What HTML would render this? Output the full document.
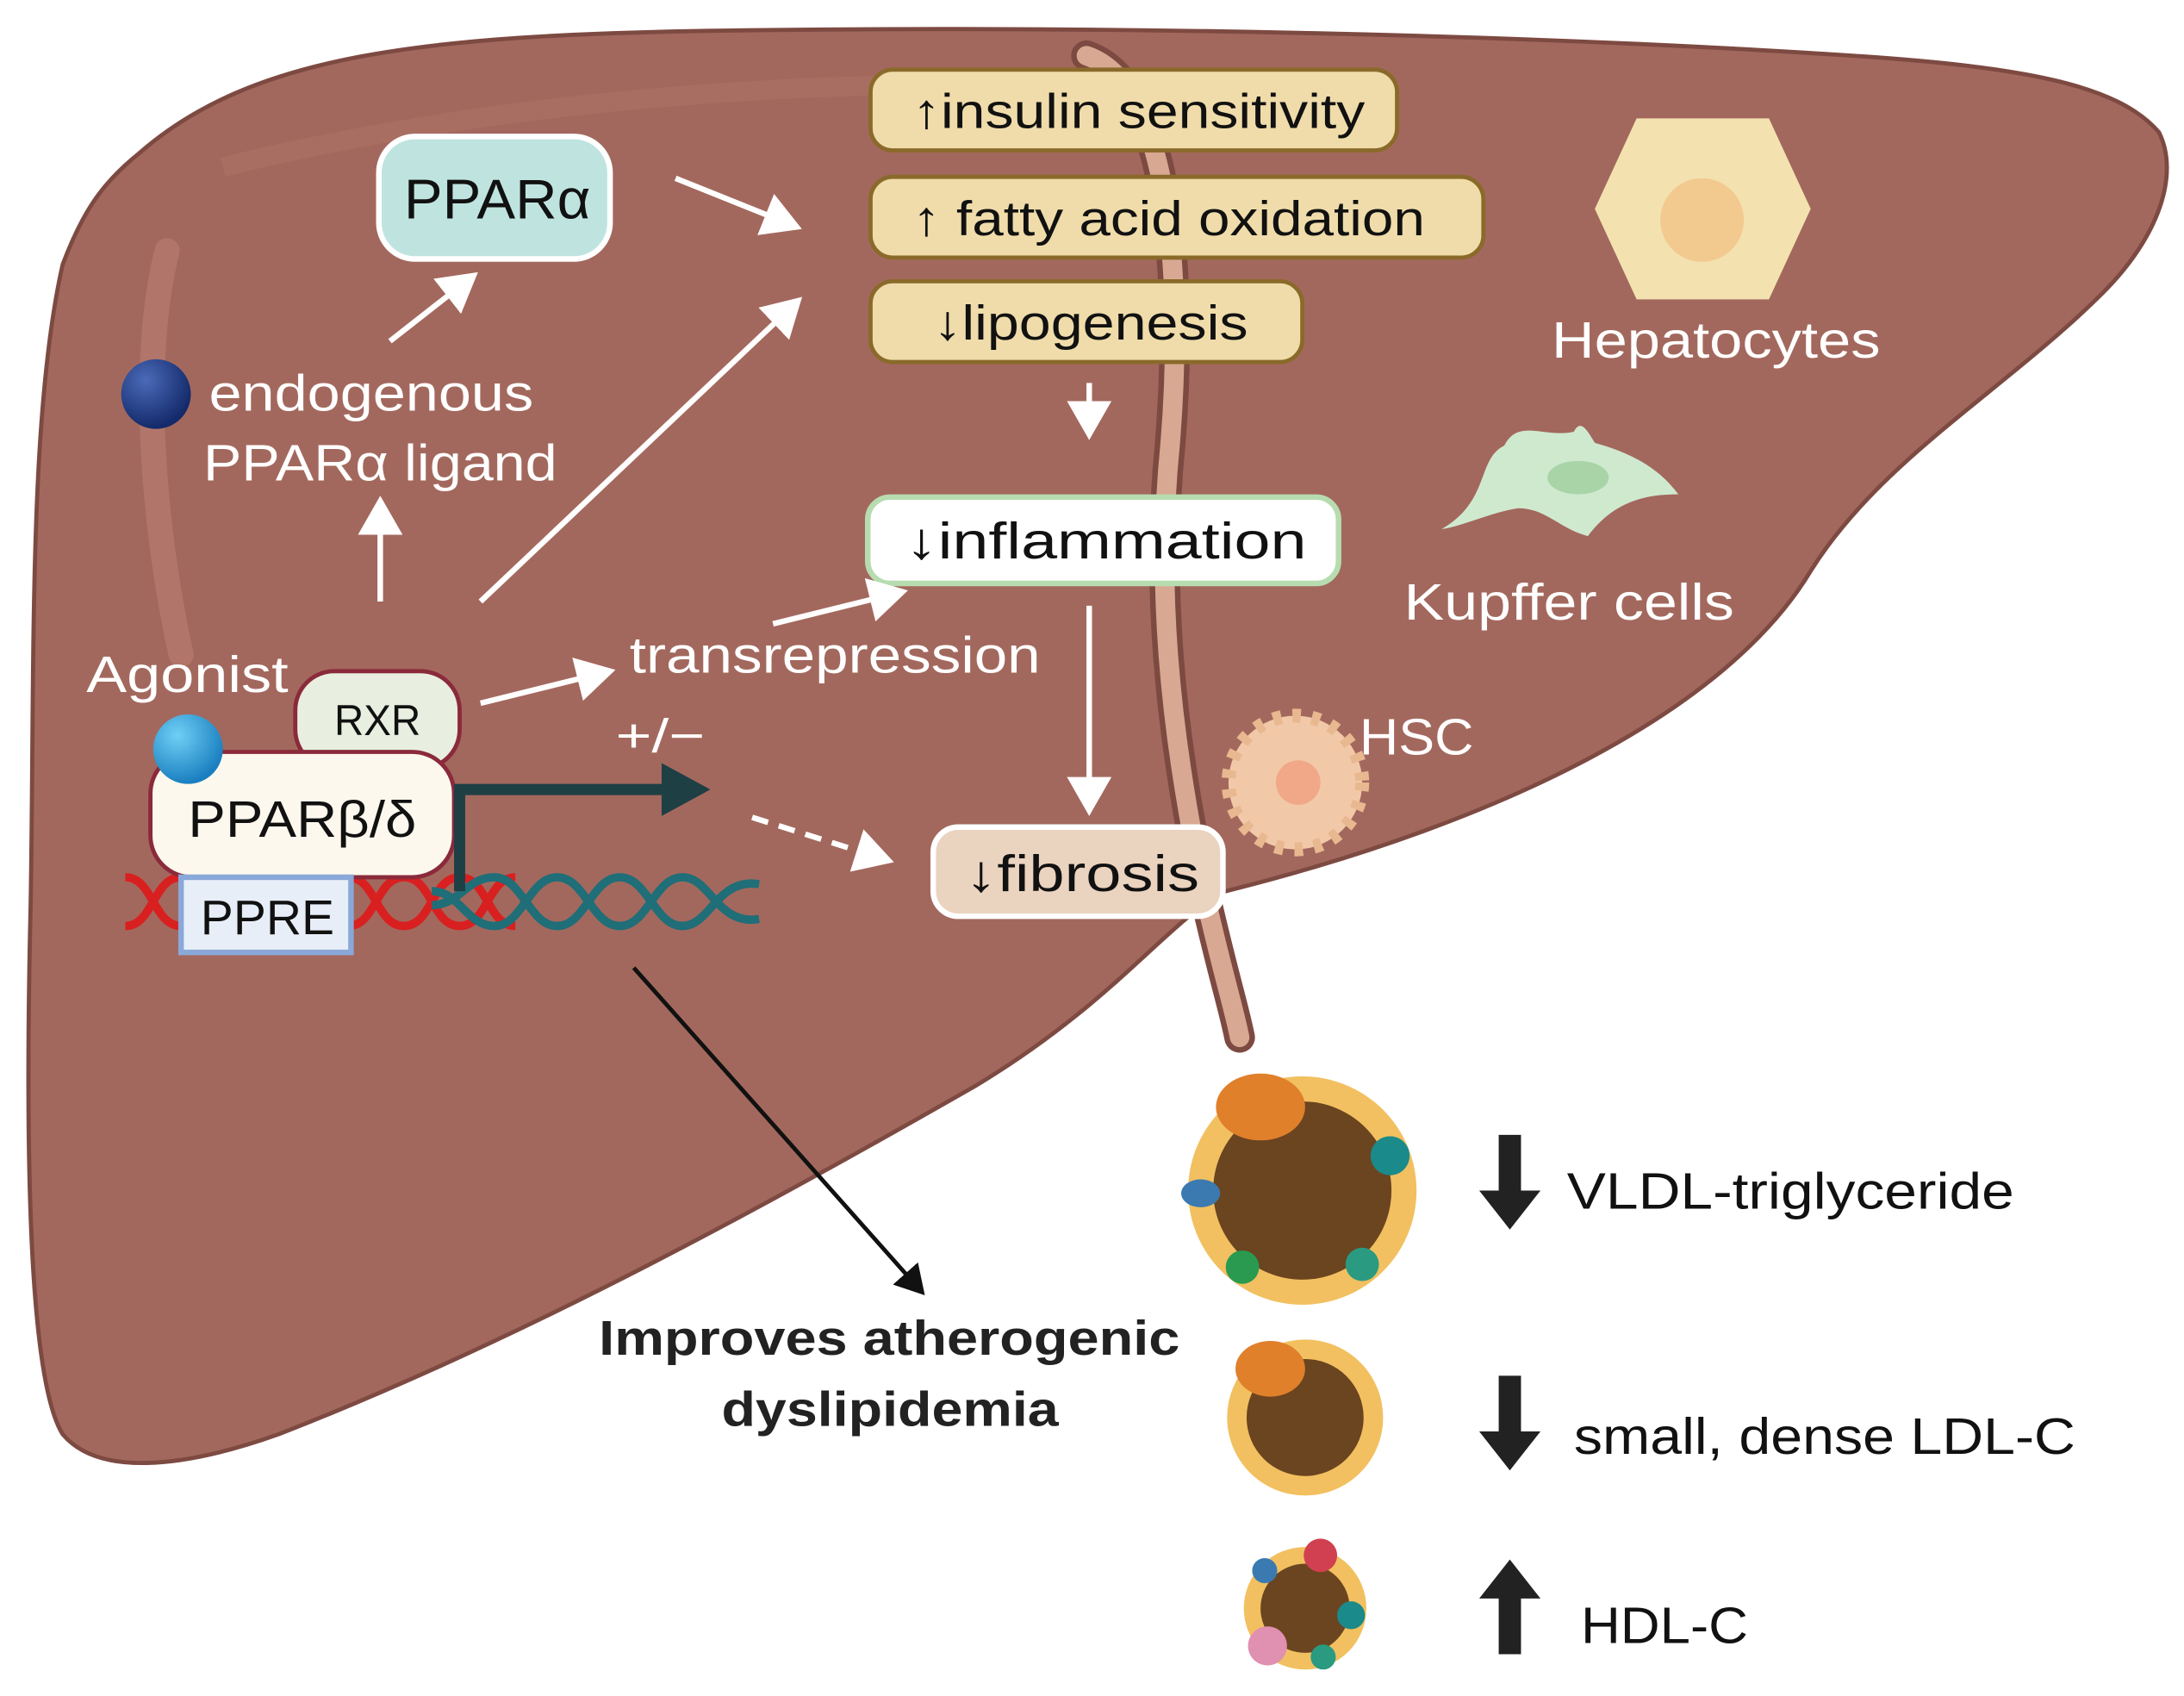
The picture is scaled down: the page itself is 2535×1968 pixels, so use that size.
<!DOCTYPE html>
<html><head><meta charset="utf-8"><style>
html,body{margin:0;padding:0;background:#fff}
svg{display:block}
text{font-family:"Liberation Sans",sans-serif}
</style></head><body>
<svg width="2535" height="1968" viewBox="0 0 1568 1218" preserveAspectRatio="none" xmlns="http://www.w3.org/2000/svg">
<defs>
<marker id="aw" markerWidth="8" markerHeight="8" refX="6" refY="4" orient="auto" markerUnits="strokeWidth"><path d="M0,0 L7,4 L0,8 Z" fill="#fff"/></marker>
<marker id="ab" markerWidth="8" markerHeight="8" refX="6" refY="4" orient="auto" markerUnits="strokeWidth"><path d="M0,0 L7,4 L0,8 Z" fill="#111"/></marker>
<radialGradient id="bl" cx="0.35" cy="0.3" r="0.7"><stop offset="0" stop-color="#4a6ab8"/><stop offset="1" stop-color="#142a6a"/></radialGradient>
<radialGradient id="lb" cx="0.35" cy="0.3" r="0.7"><stop offset="0" stop-color="#6fd0f5"/><stop offset="1" stop-color="#1a7fc0"/></radialGradient>
</defs>
<path d="M100,110 C180,40 300,25 520,22 C800,18 1100,25 1330,40 C1450,48 1520,60 1550,95 C1565,125 1550,170 1510,210 C1440,280 1350,330 1300,410 C1240,510 1080,590 880,640 C840,660 800,720 700,780 C560,860 380,960 200,1030 C130,1055 70,1060 45,1030 C20,990 18,820 22,650 C25,480 20,300 45,190 C60,150 75,130 100,110 Z" fill="#a3685d" stroke="#7d4a42" stroke-width="3"/>
<path d="M120,180 C100,260 110,380 130,470" stroke="#b87a70" stroke-width="18" fill="none" stroke-linecap="round" opacity="0.7"/>
<path d="M160,120 C400,60 700,50 900,70" stroke="#b07368" stroke-width="14" fill="none" opacity="0.5"/>
<path d="M780,40 C840,60 850,200 840,320 C830,420 840,520 860,620 C875,690 885,720 890,745" stroke="#7d4a42" stroke-width="22" fill="none" stroke-linecap="round"/>
<path d="M780,40 C840,60 850,200 840,320 C830,420 840,520 860,620 C875,690 885,720 890,745" stroke="#d9a892" stroke-width="14" fill="none" stroke-linecap="round"/>
<path d="M800,650 C830,640 860,630 880,640" stroke="#7d4a42" stroke-width="3" fill="none"/>
<rect x="625" y="50" width="378" height="58" rx="16" fill="#efdcaa" stroke="#8a6a2a" stroke-width="3"/>
<text x="655" y="92" font-size="35" fill="#111" textLength="325" lengthAdjust="spacingAndGlyphs">↑insulin sensitivity</text>
<rect x="625" y="127" width="440" height="58" rx="16" fill="#efdcaa" stroke="#8a6a2a" stroke-width="3"/>
<text x="655" y="169" font-size="35" fill="#111" textLength="368" lengthAdjust="spacingAndGlyphs">↑ fatty acid oxidation</text>
<rect x="625" y="202" width="310" height="58" rx="16" fill="#efdcaa" stroke="#8a6a2a" stroke-width="3"/>
<text x="670" y="244" font-size="35" fill="#111" textLength="226" lengthAdjust="spacingAndGlyphs">↓lipogenesis</text>
<rect x="623" y="357" width="338" height="62" rx="16" fill="#fff" stroke="#b6dcb0" stroke-width="4"/>
<text x="650" y="401" font-size="37" fill="#111" textLength="288" lengthAdjust="spacingAndGlyphs">↓inflammation</text>
<rect x="670" y="594" width="208" height="64" rx="18" fill="#ead3bf" stroke="#fff" stroke-width="4"/>
<text x="693" y="640" font-size="37" fill="#111" textLength="168" lengthAdjust="spacingAndGlyphs">↓fibrosis</text>
<rect x="272" y="98" width="166" height="88" rx="26" fill="#bfe4e0" stroke="#fff" stroke-width="4"/>
<text x="290" y="157" font-size="40" fill="#111" textLength="134" lengthAdjust="spacingAndGlyphs">PPARα</text>
<text x="150" y="295" font-size="37" fill="#fff" textLength="233" lengthAdjust="spacingAndGlyphs">endogenous</text>
<text x="146" y="345" font-size="37" fill="#fff" textLength="254" lengthAdjust="spacingAndGlyphs">PPARα ligand</text>
<text x="62" y="497" font-size="37" fill="#fff" textLength="145" lengthAdjust="spacingAndGlyphs">Agonist</text>
<text x="452" y="483" font-size="37" fill="#fff" textLength="295" lengthAdjust="spacingAndGlyphs">transrepression</text>
<text x="442" y="540" font-size="34" fill="#fff" textLength="64" lengthAdjust="spacingAndGlyphs">+/−</text>
<text x="1114" y="257" font-size="37" fill="#fff" textLength="236" lengthAdjust="spacingAndGlyphs">Hepatocytes</text>
<text x="1008" y="445" font-size="37" fill="#fff" textLength="237" lengthAdjust="spacingAndGlyphs">Kupffer cells</text>
<text x="976" y="542" font-size="37" fill="#fff" textLength="82" lengthAdjust="spacingAndGlyphs">HSC</text>
<circle cx="112" cy="283" r="25" fill="url(#bl)"/>
<g stroke="#fff" stroke-width="4" fill="none" marker-end="url(#aw)">
<line x1="485" y1="128" x2="572" y2="163"/>
<line x1="280" y1="245" x2="340" y2="198"/>
<line x1="273" y1="432" x2="273" y2="360"/>
<line x1="345" y1="432" x2="573" y2="216"/>
<line x1="782" y1="275" x2="782" y2="312"/>
<line x1="782" y1="435" x2="782" y2="582"/>
<line x1="345" y1="505" x2="438" y2="482"/>
<line x1="555" y1="448" x2="648" y2="425"/>
<line x1="540" y1="587" x2="638" y2="618" stroke-dasharray="12,8"/>
</g>
<g fill="none" stroke-width="6">
<path d="M90,630 C110,630 110,665 130,665 S150,630 170,630 S190,665 210,665 S230,630 250,630 S270,665 290,665 S310,630 330,630 S350,665 370,665" stroke="#d92020"/>
<path d="M90,665 C110,665 110,630 130,630 S150,665 170,665 S190,630 210,630 S230,665 250,665 S270,630 290,630 S310,665 330,665 S350,630 370,630" stroke="#d92020"/>
<path d="M310,650 C330,650 335,630 355,630 S380,665 400,665 S425,630 445,630 S470,665 490,665 S515,630 545,635" stroke="#1f6e78"/>
<path d="M310,640 C330,640 335,665 355,665 S380,630 400,630 S425,665 445,665 S470,630 490,630 S515,665 545,660" stroke="#1f6e78"/>
</g>
<rect x="212" y="482" width="118" height="70" rx="28" fill="#e8efe0" stroke="#8a2a3a" stroke-width="3"/>
<text x="240" y="528" font-size="31" fill="#111" textLength="62" lengthAdjust="spacingAndGlyphs">RXR</text>
<rect x="108" y="540" width="218" height="90" rx="30" fill="#fdf8ee" stroke="#8a2a3a" stroke-width="3"/>
<text x="135" y="601" font-size="37" fill="#111" textLength="164" lengthAdjust="spacingAndGlyphs">PPARβ/δ</text>
<circle cx="135" cy="538" r="25" fill="url(#lb)"/>
<rect x="130" y="630" width="122" height="54" fill="#e8eef8" stroke="#8aa8d8" stroke-width="4"/>
<text x="144" y="671" font-size="35" fill="#111" textLength="96" lengthAdjust="spacingAndGlyphs">PPRE</text>
<path d="M330,640 V567 H480" stroke="#1e3f44" stroke-width="8" fill="none"/>
<path d="M475,548 L510,567 L475,586 Z" fill="#1e3f44"/>
<path d="M1175,85 L1270,85 L1300,150 L1270,215 L1175,215 L1145,150 Z" fill="#f3e2b0"/>
<circle cx="1222" cy="158" r="30" fill="#f2c98f"/>
<path d="M1035,380 C1070,360 1060,330 1080,320 C1090,300 1110,315 1130,310 C1135,300 1140,310 1145,318 C1170,325 1190,335 1205,355 C1185,355 1160,358 1140,385 C1120,380 1110,365 1090,365 C1070,368 1050,378 1035,380 Z" fill="#cfe9cf"/>
<ellipse cx="1133" cy="343" rx="22" ry="12" fill="#a8d4a8"/>
<circle cx="930" cy="562" r="48" fill="#f2c9a8" stroke="#e8b890" stroke-width="10" stroke-dasharray="6,8"/>
<circle cx="932" cy="562" r="16" fill="#f0a888"/>
<line x1="455" y1="695" x2="662" y2="928" stroke="#111" stroke-width="3" marker-end="url(#ab)"/>
<text x="430" y="973" font-size="35" font-weight="bold" fill="#222" textLength="417" lengthAdjust="spacingAndGlyphs">Improves atherogenic</text>
<text x="518" y="1024" font-size="35" font-weight="bold" fill="#222" textLength="242" lengthAdjust="spacingAndGlyphs">dyslipidemia</text>
<circle cx="935" cy="855" r="82" fill="#f2c060"/>
<circle cx="935" cy="855" r="64" fill="#6b4420"/>
<ellipse cx="905" cy="795" rx="32" ry="24" fill="#e0802a"/>
<circle cx="998" cy="830" r="14" fill="#1a8a8a"/>
<ellipse cx="862" cy="857" rx="14" ry="10" fill="#3a7ab0"/>
<circle cx="892" cy="910" r="12" fill="#2a9a50"/>
<circle cx="978" cy="908" r="12" fill="#2a9a80"/>
<circle cx="937" cy="1018" r="56" fill="#f2c060"/>
<circle cx="937" cy="1018" r="42" fill="#6b4420"/>
<ellipse cx="912" cy="983" rx="25" ry="20" fill="#e0802a"/>
<circle cx="937" cy="1155" r="44" fill="#f2c060"/>
<circle cx="937" cy="1155" r="32" fill="#6b4420"/>
<circle cx="948" cy="1117" r="12" fill="#d04050"/>
<circle cx="910" cy="1182" r="14" fill="#e090b0"/>
<circle cx="970" cy="1160" r="10" fill="#1a8a8a"/>
<circle cx="908" cy="1128" r="9" fill="#3a7ab0"/>
<circle cx="950" cy="1190" r="9" fill="#2a9a80"/>
<g fill="#222">
<path d="M1076,815 h16 v40 h14 l-22,28 l-22,-28 h14 z"/>
<path d="M1076,988 h16 v40 h14 l-22,28 l-22,-28 h14 z"/>
<path d="M1076,1188 h16 v-40 h14 l-22,-28 l-22,28 h14 z"/>
</g>
<text x="1125" y="868" font-size="37" fill="#111" textLength="321" lengthAdjust="spacingAndGlyphs">VLDL-triglyceride</text>
<text x="1130" y="1044" font-size="37" fill="#111" textLength="360" lengthAdjust="spacingAndGlyphs">small, dense LDL-C</text>
<text x="1135" y="1180" font-size="37" fill="#111" textLength="120" lengthAdjust="spacingAndGlyphs">HDL-C</text>
</svg>
</body></html>
